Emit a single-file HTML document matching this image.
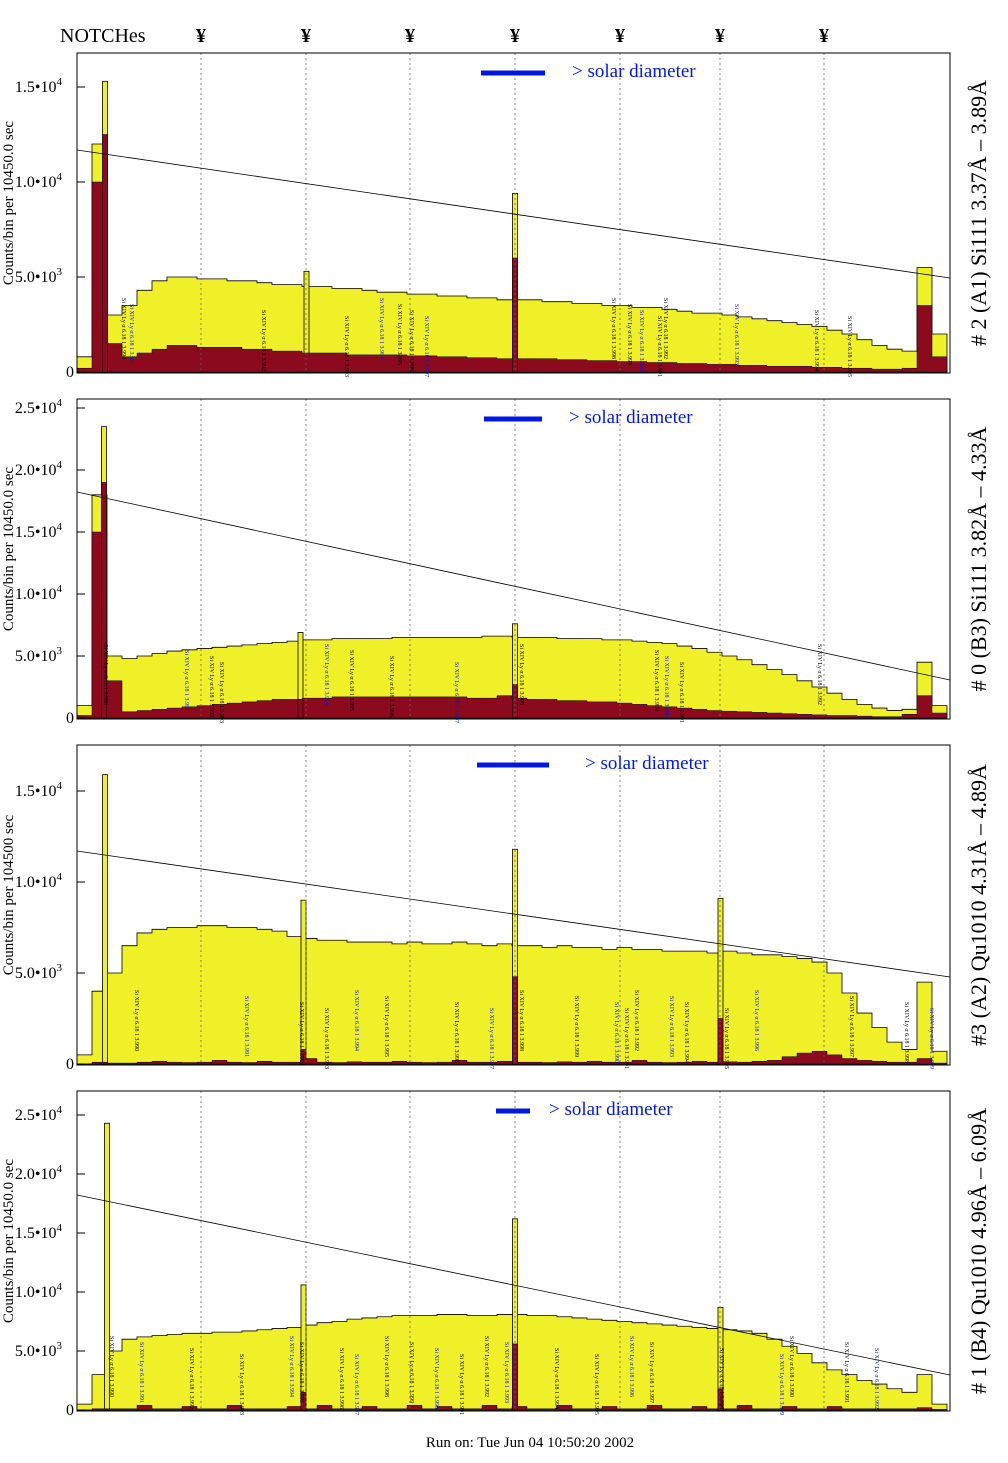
<!DOCTYPE html>
<html><head><meta charset="utf-8">
<style>
html,body{margin:0;padding:0;background:#fff;}
svg{display:block;font-family:"Liberation Serif",serif;}
</style></head>
<body>
<svg id="chart" width="1008" height="1463" viewBox="0 0 1008 1463" xmlns="http://www.w3.org/2000/svg">
<text x="60" y="42" font-size="20">NOTCHes</text>
<g id="yen"></g>
<g id="panels"></g>
<text x="530" y="1447" font-size="15" text-anchor="middle">Run on: Tue Jun 04 10:50:20 2002</text>
</svg>
<script>
// ---- data ----
const notchX = [201, 306, 410, 515, 620, 720, 824];
const p1Yellow = [800,12000,3000,3500,4300,4800,5000,5000,4900,4900,4800,4800,4700,4600,4600,4500,4500,4400,4400,4300,4200,4200,4100,4100,4000,4000,3900,3900,3800,3800,3800,3700,3700,3600,3600,3500,3500,3400,3400,3300,3200,3100,3100,3000,2900,2800,2700,2600,2500,2400,2200,2000,1700,1400,1200,1100,5500,2000];
const p1Red = [200,10000,1500,800,1000,1200,1400,1400,1300,1300,1300,1200,1200,1100,1100,1000,1000,1000,900,900,900,900,850,850,800,800,750,750,700,700,700,700,650,650,600,600,550,550,500,500,450,450,400,400,350,350,300,300,300,250,250,200,200,150,150,200,3500,800];
const p1SpikePos = [1.87, 15.3, 29.2];
const p1SpikeY = [15300, 5300, 9400];
const p1SpikeR = [12500, 0, 6000];
const p2Yellow = [1000,18000,5000,4800,5000,5200,5400,5500,5600,5700,5800,5900,6000,6100,6200,6300,6300,6400,6400,6400,6400,6500,6500,6500,6500,6500,6500,6600,6600,6500,6500,6500,6400,6400,6400,6300,6300,6200,6100,6000,5800,5600,5300,5000,4700,4300,3900,3500,3000,2500,2000,1500,1100,800,600,700,4500,1000];
const p2Red = [200,15000,3000,500,600,700,800,900,1000,1100,1200,1300,1400,1500,1500,1600,1600,1700,1700,1700,1700,1700,1700,1700,1700,1700,1600,1600,1800,1600,1500,1500,1400,1400,1300,1300,1200,1100,1000,900,800,700,600,550,500,450,400,350,300,250,200,200,150,100,100,300,1800,400];
const p2SpikePos = [1.8, 14.9, 29.2];
const p2SpikeY = [23500, 6900, 7600];
const p2SpikeR = [19000, 1500, 2700];
const p3Yellow = [500,4000,5000,6500,7200,7400,7500,7500,7600,7600,7500,7500,7400,7300,7000,6900,6800,6800,6700,6700,6700,6600,6700,6600,6600,6700,6600,6500,6600,6500,6500,6400,6500,6400,6400,6300,6400,6300,6300,6200,6200,6200,6100,6200,6100,6000,6000,5900,5800,5600,5000,3900,2800,2000,1200,800,4500,700];
const p3Red = [0,100,50,50,100,150,100,80,100,200,100,80,150,100,100,300,100,80,120,100,100,150,100,80,100,200,100,100,150,100,100,80,120,100,150,100,100,200,100,80,100,150,100,120,100,150,200,400,600,700,500,300,200,150,100,100,300,50];
const p3SpikePos = [1.87, 15.1, 29.2, 42.9];
const p3SpikeY = [15900, 9000, 11800, 9100];
const p3SpikeR = [0, 800, 4800, 2500];
const p4Yellow = [500,3000,5000,6000,6200,6300,6400,6500,6500,6600,6600,6700,6800,6900,7000,7200,7400,7500,7700,7800,7900,8000,8000,8000,8100,8100,8000,8000,8100,8100,8000,8000,7900,7800,7700,7600,7500,7400,7300,7200,7100,7000,6900,6800,6700,6500,6000,5400,4800,4000,3400,3000,2500,2200,1800,1500,3000,500];
const p4Red = [0,100,100,100,400,100,100,300,100,100,400,100,100,100,300,100,400,100,100,300,100,100,400,100,300,100,100,400,100,300,100,100,400,100,100,300,100,100,400,100,100,300,100,100,400,100,100,300,100,100,300,100,100,100,100,100,200,50];
const p4SpikePos = [2.0, 15.1, 29.2, 42.9];
const p4SpikeY = [24300, 10600, 16200, 8700];
const p4SpikeR = [0, 1500, 5600, 1800];
const p1Ticks = [0, 5000, 10000, 15000];
const p2Ticks = [0, 5000, 10000, 15000, 20000, 25000];
const p3Ticks = [0, 5000, 10000, 15000];
const p4Ticks = [0, 5000, 10000, 15000, 20000, 25000];
const tickLabels = {0:"0",5000:"5.0•10",10000:"1.0•10",15000:"1.5•10",20000:"2.0•10",25000:"2.5•10"};
const tickExp = {0:"",5000:"3",10000:"4",15000:"4",20000:"4",25000:"4"};
const rightLabels = ["# 2 (A1) Si111  3.37Å – 3.89Å","# 0 (B3) Si111  3.82Å – 4.33Å","#3 (A2) Qu1010  4.31Å – 4.89Å","# 1 (B4) Qu1010 4.96Å – 6.09Å"];
const yTitles = ["Counts/bin per  10450.0 sec","Counts/bin per  10450.0 sec","Counts/bin per  104500 sec","Counts/bin per  10450.0 sec"];
const p1LineX = [122,130,262,345,380,398,410,425,612,628,640,658,664,735,815,848];
const p2LineX = [104,185,210,220,325,350,390,455,520,655,665,680,818];
const p3LineX = [135,245,300,325,355,385,455,490,520,575,615,625,635,670,685,725,755,850,905,930];
const p4LineX = [110,140,190,240,290,300,340,355,385,410,435,460,485,505,555,595,630,650,720,780,790,845,875];
const lineLabel = "Si XIV Ly α 6.18 1";

// ---- layout ----
const NS = "http://www.w3.org/2000/svg";
const X0 = 77, X1 = 950, binW = 15;
const panels = [
 {top:53, bot:373, y0:372, k:0.019, Y:p1Yellow, R:p1Red, sp:p1SpikePos, sy:p1SpikeY, sr:p1SpikeR, ticks:p1Ticks, line:[150,278], bar:[481,545], txt:572, lx:p1LineX},
 {top:399, bot:719, y0:718, k:0.0124, Y:p2Yellow, R:p2Red, sp:p2SpikePos, sy:p2SpikeY, sr:p2SpikeR, ticks:p2Ticks, line:[492,680], bar:[484,542], txt:569, lx:p2LineX},
 {top:745, bot:1065, y0:1064, k:0.0182, Y:p3Yellow, R:p3Red, sp:p3SpikePos, sy:p3SpikeY, sr:p3SpikeR, ticks:p3Ticks, line:[851,977], bar:[477,549], txt:585, lx:p3LineX},
 {top:1091, bot:1411, y0:1410, k:0.0118, Y:p4Yellow, R:p4Red, sp:p4SpikePos, sy:p4SpikeY, sr:p4SpikeR, ticks:p4Ticks, line:[1195,1375], bar:[496,530], txt:549, lx:p4LineX}
];
function el(tag, attrs, parent){const e=document.createElementNS(NS,tag);for(const a in attrs)e.setAttribute(a,attrs[a]);parent.appendChild(e);return e;}
const xs = b => X0 + b*binW;

const yen = document.getElementById('yen');
notchX.forEach(x=>{
 const t=el('text',{x:x,y:42,'font-size':20,'font-weight':'bold','text-anchor':'middle'},yen);
 
 
 t.textContent='¥';
});

const root = document.getElementById('panels');
panels.forEach((p,pi)=>{
 const g=el('g',{},root);
 
 
 const ys = v => p.y0 - v*p.k;
 function stepPath(arr){
  let d='M'+xs(0)+','+ys(0);
  arr.forEach((v,i)=>{const y=Math.max(ys(v),p.top+1);d+=' L'+xs(i)+','+y+' L'+xs(i+1)+','+y;});
  d+=' L'+xs(arr.length)+','+ys(0)+' Z';return d;
 }
 const yp=el('path',{d:stepPath(p.Y),fill:'#f0f028',stroke:'#000','stroke-width':0.8},g);
 
 
 p.sp.forEach((b,i)=>{
  const x=xs(b)-2.5, y=Math.max(ys(p.sy[i]),p.top+1);
  const s=el('rect',{x:x,y:y,width:5,height:ys(0)-y,fill:'#f0f028',stroke:'#000','stroke-width':0.8},g);
  
  
 });
 const rp=el('path',{d:stepPath(p.R),fill:'#8b0a1e',stroke:'#000','stroke-width':0.5},g);
 
 
 p.sp.forEach((b,i)=>{
  if(!p.sr[i])return;
  const x=xs(b)-2.5, y=ys(p.sr[i]);
  const s=el('rect',{x:x,y:y,width:5,height:ys(0)-y,fill:'#8b0a1e',stroke:'#000','stroke-width':0.5},g);
  
  
 });
 notchX.forEach(x=>{
  const l=el('line',{x1:x,x2:x,y1:p.top,y2:p.bot,stroke:'#666','stroke-width':0.8,'stroke-dasharray':'2,3'},g);
  
  
 });
 // spectral line identification labels
 p.lx.forEach((x,i)=>{
  const t=el('text',{x:0,y:0,'font-size':6,fill:(i%3===1)?'#0018e0':'#000',transform:`translate(${x},${p.bot-75+(i%4)*6}) rotate(90)`},g);
  
  
  t.textContent=lineLabel+' 3.99'+(i%10);
 });
 const dl=el('line',{x1:X0,y1:p.line[0],x2:X1,y2:p.line[1],stroke:'#000','stroke-width':0.8},g);
 
 
 const fr=el('rect',{x:X0,y:p.top,width:X1-X0,height:p.bot-p.top,fill:'none',stroke:'#000','stroke-width':1},g);
 
 
 p.ticks.forEach(v=>{
  const y=ys(v);
  const tk=el('line',{x1:X0,x2:X0+8,y1:y,y2:y,stroke:'#000'},g);
  
  
  const t=el('text',{x:v?62:74,y:y+5,'font-size':16,'text-anchor':'end'},g);
  
  
  t.textContent=tickLabels[v];
  if(tickExp[v]){const s=el('tspan',{'font-size':11,dy:-7},t);s.textContent=tickExp[v];}
 });
 const cy=(p.top+p.bot)/2;
 const yt=el('text',{x:0,y:0,'font-size':15,'text-anchor':'middle',transform:`translate(13,${cy-10}) rotate(-90)`},g);
 
 
 yt.textContent=yTitles[pi];
 const rl=el('text',{x:0,y:0,'font-size':22,'text-anchor':'middle',transform:`translate(986,${cy}) rotate(-90)`},g);
 
 
 rl.textContent=rightLabels[pi];
 const bar=el('line',{x1:p.bar[0],x2:p.bar[1],y1:p.top+20,y2:p.top+20,stroke:'#0018e0','stroke-width':5},g);
 
 
 const st=el('text',{x:p.txt,y:p.top+24,'font-size':19,fill:'#0018e0'},g);
 
 
 st.textContent='> solar diameter';
});
</script>
</body></html>
